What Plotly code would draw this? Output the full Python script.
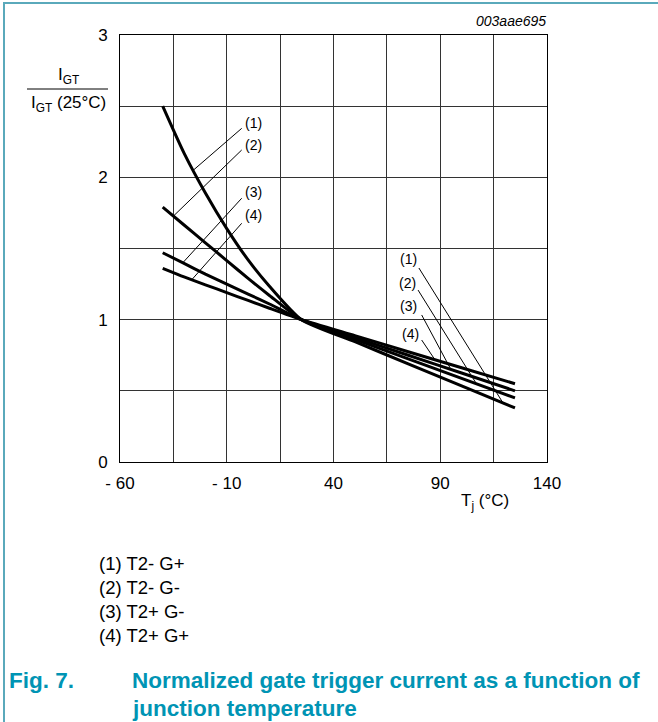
import plotly.graph_objects as go
import numpy as np

# junction temperature (degC)
tj = [-40, -30, -20, -10, 0, 10, 25, 50, 75, 100, 125]

# normalized gate trigger current IGT / IGT(25degC)
igt_1 = [2.50, 2.17, 1.89, 1.64, 1.42, 1.235, 1.0, 0.845, 0.69, 0.535, 0.38]   # T2- G+
igt_2 = [1.79, 1.665, 1.54, 1.415, 1.29, 1.17, 1.0, 0.862, 0.725, 0.587, 0.45]  # T2- G-
igt_3 = [1.47, 1.395, 1.32, 1.25, 1.18, 1.11, 1.0, 0.875, 0.75, 0.625, 0.50]    # T2+ G-
igt_4 = [1.36, 1.30, 1.245, 1.19, 1.135, 1.08, 1.0, 0.8875, 0.775, 0.6625, 0.55]  # T2+ G+

curve_labels = ["(1)", "(2)", "(3)", "(4)"]
legend_lines = ["(1) T2- G+", "(2) T2- G-", "(3) T2+ G-", "(4) T2+ G+"]

x_tickvals = [-60, -10, 40, 90, 140]
x_ticktext = ["- 60", "- 10", "40", "90", "140"]
y_tickvals = [0, 1, 2, 3]

# leader lines: label anchor (T, y) and temperature where leader meets its curve
left_start = [(-3.0, 2.344), (-3.0, 2.192), (-3.0, 1.853), (-3.0, 1.677)]
left_end_t = [-25.7, -35.0, -30.6, -26.4]
right_start = [(80.0, 1.363), (79.6, 1.208), (81.3, 1.033), (81.3, 0.857)]
right_end_t = [119.4, 107.0, 95.0, 87.5]

# plot area in pixels
W, H = 658, 722
L, R, T, B = 120, 547, 35, 462
TEAL = "#0094b4"
FRAME = "#5aa9bb"
FONT = "Liberation Sans, Arial, sans-serif"


def px(x):
    return (x - L) / (R - L)


def py(y):
    return (B - y) / (B - T)


def text(x, y, s, size, color="black", xanchor="center"):
    fig.add_annotation(x=px(x), y=py(y), xref="paper", yref="paper", text=s,
                       xanchor=xanchor, yanchor="middle", showarrow=False,
                       font=dict(size=size, color=color, family=FONT))


fig = go.Figure()
curves = [igt_1, igt_2, igt_3, igt_4]
for c in curves:
    fig.add_trace(go.Scatter(x=tj, y=c, mode="lines",
                             line=dict(color="black", width=3, shape="spline", smoothing=0.6),
                             hoverinfo="skip", showlegend=False))

# leader lines + curve labels
for i, c in enumerate(curves):
    for (sx, sy), et in ((left_start[i], left_end_t[i]), (right_start[i], right_end_t[i])):
        ey = float(np.interp(et, tj, c))
        fig.add_shape(type="line", x0=sx, y0=sy, x1=et, y1=ey, xref="x", yref="y",
                      line=dict(color="black", width=1))

left_lbl_y = [122.7, 145, 191.7, 215]
right_lbl = [(408.3, 259.3), (407.7, 283.3), (408.3, 306), (410, 334)]
for i, lab in enumerate(curve_labels):
    text(253.3, left_lbl_y[i], lab, 14)
    text(right_lbl[i][0], right_lbl[i][1], lab, 14)

# y-axis title as fraction
text(68, 76, "I<sub>GT</sub>", 17)
fig.add_shape(type="line", x0=px(27), x1=px(108), y0=py(89), y1=py(89), xref="paper", yref="paper",
              line=dict(color="black", width=1))
text(68, 104, "I<sub>GT</sub> (25°C)", 17)

# x-axis title
text(485, 502, "T<sub>j</sub> (°C)", 17)

# figure id
text(548, 21, "<i>003aae695</i>", 14, xanchor="right")

# legend text
for i, s in enumerate(legend_lines):
    text(97, 563 + 24 * i, s, 18.5, xanchor="left")

# caption
text(7, 680, "<b>Fig. 7.</b>", 22.5, TEAL, xanchor="left")
text(130, 680, "<b>Normalized gate trigger current as a function of</b>", 22.5, TEAL, xanchor="left")
text(130, 708, "<b>junction temperature</b>", 22.5, TEAL, xanchor="left")

# teal frame (left and top)
fig.add_shape(type="line", x0=px(4), x1=px(4), y0=py(2), y1=py(H + 5), xref="paper", yref="paper",
              line=dict(color=FRAME, width=2))
fig.add_shape(type="line", x0=px(3), x1=px(W + 5), y0=py(3), y1=py(3), xref="paper", yref="paper",
              line=dict(color=FRAME, width=2))

fig.update_layout(
    width=W, height=H,
    margin=dict(l=L, r=W - R, t=T, b=H - B),
    plot_bgcolor="white", paper_bgcolor="white",
    font=dict(family=FONT, color="black"),
    xaxis=dict(range=[-60, 140], tickvals=x_tickvals, ticktext=x_ticktext, ticks="",
               ticklabelstandoff=6, tickfont=dict(size=17),
               showgrid=True, gridcolor="#333", gridwidth=1, zeroline=False,
               showline=True, linecolor="black", linewidth=1, mirror=True,
               minor=dict(tick0=-60, dtick=25, showgrid=True, gridcolor="#333", gridwidth=1)),
    yaxis=dict(range=[0, 3], tickvals=y_tickvals, ticks="", ticklabelstandoff=8,
               tickfont=dict(size=17),
               showgrid=True, gridcolor="#333", gridwidth=1, zeroline=False,
               showline=True, linecolor="black", linewidth=1, mirror=True,
               minor=dict(tick0=0, dtick=0.5, showgrid=True, gridcolor="#333", gridwidth=1)),
)

fig.write_html("out.html", config={"displayModeBar": False},
               post_script="document.body.style.margin='0px';")
